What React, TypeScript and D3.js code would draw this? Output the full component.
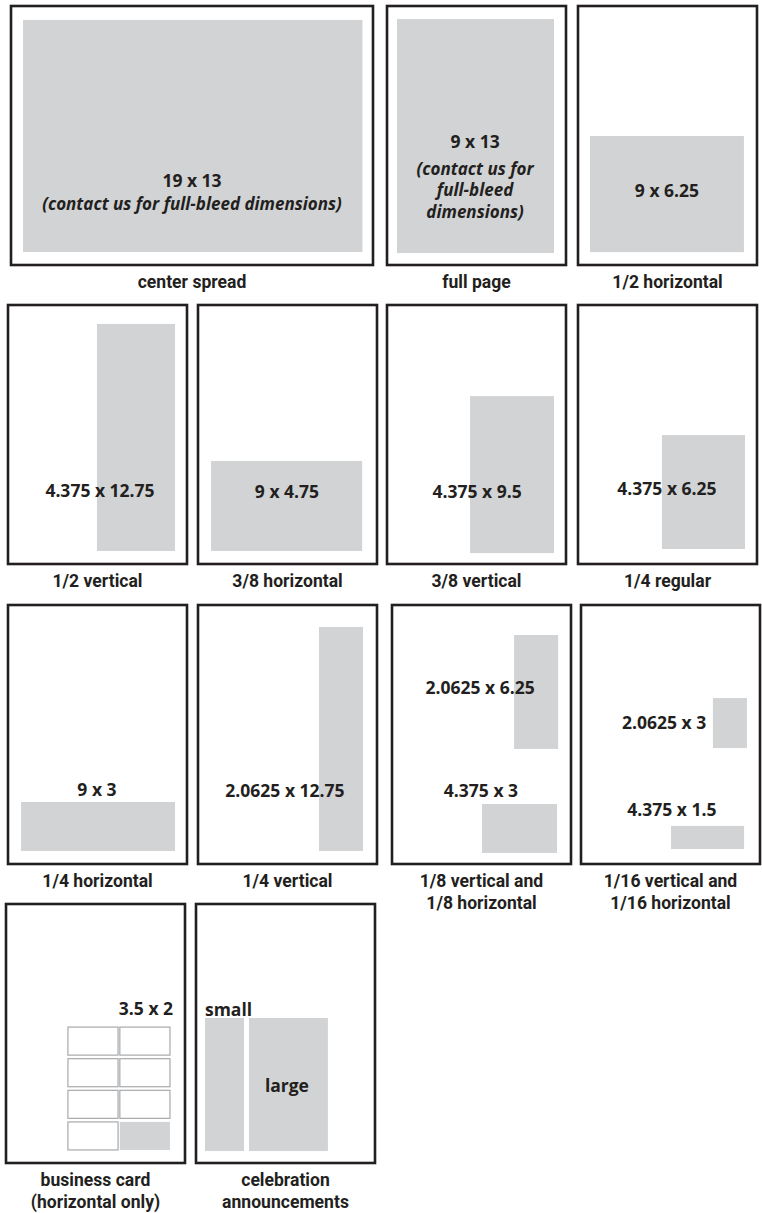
import React from "react";
import * as d3 from "d3";

// ---------- data ----------
const panelLabels: string[][] = [
  ["center spread"], ["full page"], ["1/2 horizontal"],
  ["1/2 vertical"], ["3/8 horizontal"], ["3/8 vertical"], ["1/4 regular"],
  ["1/4 horizontal"], ["1/4 vertical"], ["1/8 vertical and", "1/8 horizontal"], ["1/16 vertical and", "1/16 horizontal"],
  ["business card", "(horizontal only)"], ["celebration", "announcements"],
];
const panelPages = [2, 1, 1, 1, 1, 1, 1, 1, 1, 1, 1, 1, 1];

// ad blocks, in page inches as drawn
const adPanel = [0, 1, 2, 3, 4, 5, 6, 7, 8, 9, 9, 10, 10, 12, 12];
const adX = [0.67, 0.56, 0.67, 4.97, 0.73, 4.64, 4.69, 0.73, 6.76, 6.82, 5.03, 7.37, 5.03, 0.5, 2.96];
const adY = [0.78, 0.73, 7.28, 1.06, 8.73, 5.1, 7.28, 11.03, 1.23, 1.68, 11.14, 5.21, 12.37, 6.38, 6.38];
const adW = [18.94, 8.77, 8.6, 4.36, 8.44, 4.69, 4.64, 8.6, 2.46, 2.46, 4.19, 1.9, 4.08, 2.18, 4.41];
const adH = [12.99, 13.1, 6.5, 12.71, 5.04, 8.79, 6.38, 2.74, 12.54, 6.38, 2.74, 2.8, 1.29, 7.45, 7.45];

// business cards grid (panel 11)
const cardCol = [0, 1, 0, 1, 0, 1, 0, 1];
const cardRow = [0, 0, 1, 1, 2, 2, 3, 3];
const cardFilled = [false, false, false, false, false, false, false, true];

// dimension labels
const dimPanel = [0, 1, 2, 3, 4, 5, 6, 7, 8, 9, 9, 10, 10, 11, 12, 12];
const dimText = ["19 x 13", "9 x 13", "9 x 6.25", "4.375 x 12.75", "9 x 4.75", "4.375 x 9.5", "4.375 x 6.25",
  "9 x 3", "2.0625 x 12.75", "2.0625 x 6.25", "4.375 x 3", "2.0625 x 3", "4.375 x 1.5", "3.5 x 2", "small", "large"];
const dimX = [10.1, 4.92, 4.97, 5.14, 4.97, 5.03, 4.97, 4.97, 4.86, 4.92, 4.97, 4.64, 5.08, 7.82, 0.5, 5.08];
const dimY = [10.13, 7.95, 10.69, 10.75, 10.8, 10.8, 10.64, 10.69, 10.75, 4.98, 10.75, 6.94, 11.81, 6.21, 6.27, 10.53];

// italic notes
const notePanel = [0, 1];
const noteLines: string[][] = [["(contact us for full-bleed dimensions)"], ["(contact us for", "full-bleed", "dimensions)"]];
const noteX = [10.1, 4.92];
const noteY = [11.42, 9.46];

// ---------- layout ----------
const panelLeft = [11, 387, 578, 8, 198, 387, 578, 8, 198, 392, 581, 6, 196];
const panelRowIdx = [0, 0, 0, 1, 1, 1, 1, 2, 2, 2, 2, 3, 3];
const rowTop = [6, 305, 605, 904];
const PAGE_W = 10, PAGE_H = 14.5, PX_W = 179, PX_H = 259;

const INK = "#231f20";
const GRAY = "#d1d3d4";
const DIM_FONT = "'Open Sans', Lato, sans-serif";
const LABEL_FONT = "Roboto, 'Open Sans', sans-serif";
const LABEL_SQUEEZE = 0.95;

function scalesFor(i: number) {
  const pages = panelPages[i];
  const wIn = PAGE_W * pages + (pages - 1) * 0.2;
  const wPx = PX_W * pages + (pages - 1) * 4;
  const left = panelLeft[i];
  const top = rowTop[panelRowIdx[i]];
  const x = d3.scaleLinear().domain([0, wIn]).range([left, left + wPx]);
  const y = d3.scaleLinear().domain([0, PAGE_H]).range([top, top + PX_H]);
  return { x, y, wIn };
}

export default function App() {
  const sc = panelLabels.map((_, i) => scalesFor(i));
  return (
    <div style={{ position: "absolute", left: 0, top: 0 }}>
      <svg width={762} height={1213} viewBox="0 0 762 1213">
        <rect x={0} y={0} width={762} height={1213} fill="#fff" />
        {adPanel.map((p, k) => {
          const { x, y } = sc[p];
          return (
            <rect key={"ad" + k} x={x(adX[k])} y={y(adY[k])}
              width={x(adX[k] + adW[k]) - x(adX[k])} height={y(adY[k] + adH[k]) - y(adY[k])} fill={GRAY} />
          );
        })}
        {cardCol.map((c, k) => {
          const { x, y } = sc[11];
          const x0 = 3.46 + c * 2.9, y0 = 6.89 + cardRow[k] * 1.77;
          return (
            <rect key={"card" + k} x={x(x0)} y={y(y0)} width={x(x0 + 2.8) - x(x0)} height={y(y0 + 1.57) - y(y0)}
              fill={cardFilled[k] ? GRAY : "#fff"} stroke={cardFilled[k] ? "none" : "#a7a9ac"} strokeWidth={1.2} />
          );
        })}
        {panelLabels.map((lines, i) => {
          const { x, y, wIn } = sc[i];
          return (
            <g key={"panel" + i}>
              <rect x={x(0)} y={y(0)} width={x(wIn) - x(0)} height={y(PAGE_H) - y(0)} fill="none" stroke={INK} strokeWidth={2.6} />
              {lines.map((t, j) => (
                <text key={j} transform={`translate(${x(wIn / 2)},${y(PAGE_H) + 23 + j * 22}) scale(${LABEL_SQUEEZE},1)`}
                  textAnchor="middle" fontFamily={LABEL_FONT}
                  fontWeight={700} fontSize={18.5} fill={INK}>{t}</text>
              ))}
            </g>
          );
        })}
        {dimPanel.map((p, k) => {
          const { x, y } = sc[p];
          return (
            <text key={"dim" + k} x={x(dimX[k])} y={y(dimY[k])} textAnchor={dimText[k] === "small" ? "start" : "middle"}
              fontFamily={DIM_FONT} fontWeight={700} fontSize={17.5} fill={INK}>{dimText[k]}</text>
          );
        })}
        {notePanel.map((p, k) => {
          const { x, y } = sc[p];
          return noteLines[k].map((t, j) => (
            <text key={"note" + k + "-" + j} x={x(noteX[k])} y={y(noteY[k]) + j * 21.5} textAnchor="middle"
              fontFamily={DIM_FONT} fontWeight={700} fontStyle="italic" fontSize={17} fill={INK}>{t}</text>
          ));
        })}
      </svg>
    </div>
  );
}
